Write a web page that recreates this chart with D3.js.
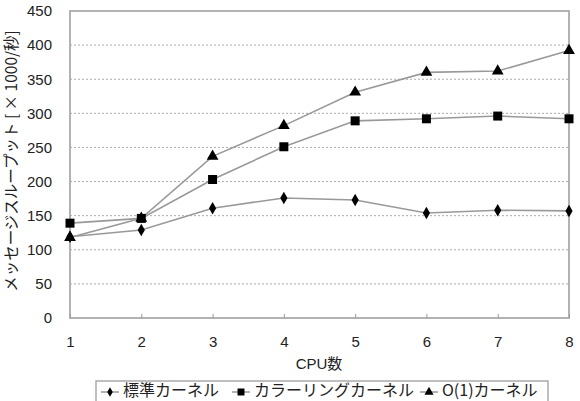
<!DOCTYPE html>
<html>
<head>
<meta charset="utf-8">
<script src="https://cdn.jsdelivr.net/npm/d3@7"></script>
<style>
  html, body { margin: 0; padding: 0; background: #fff; overflow: hidden; }
  svg { display: block; }
  svg text { font-family: "Liberation Sans", "Noto Sans CJK JP", sans-serif; fill: #222; }
  svg text.jp { font-family: "Noto Sans CJK JP", "Liberation Sans", sans-serif; }
</style>
</head>
<body>
<div id="chart"></div>
<script>
const cpus = [1, 2, 3, 4, 5, 6, 7, 8];
const yTicks = [0, 50, 100, 150, 200, 250, 300, 350, 400, 450];
const standardKernel = [119, 129, 161, 176, 173, 154, 158, 157];
const coloringKernel = [139, 146, 203, 251, 289, 292, 296, 292];
const o1Kernel = [118, 146, 237, 282, 331, 360, 362, 392];
const seriesNames = ["標準カーネル", "カラーリングカーネル", "O(1)カーネル"];

const width = 580, height = 401;
const margin = {top: 11, right: 11, bottom: 83, left: 70};
const innerWidth = width - margin.left - margin.right
, innerHeight = height - margin.top - margin.bottom;

const svg = d3.select("#chart").append("svg")
  .attr("width", width)
  .attr("height", height);

const g = svg.append("g")
  .attr("transform", `translate(${margin.left},${margin.top})`);

const xScale = d3.scaleLinear().domain([1, 8]).range([0, innerWidth]);
const yScale = d3.scaleLinear().domain([0, 450]).range([innerHeight, 0]);

// gridlines
g.selectAll(".grid")
  .data(yTicks.filter(d => d > 0 && d < 450))
  .enter().append("line")
  .attr("x1", 0).attr("x2", innerWidth)
  .attr("y1", d => yScale(d)).attr("y2", d => yScale(d))
  .attr("stroke", "#aaa")
  .attr("stroke-dasharray", "2,2");

// plot frame
g.append("rect")
  .attr("width", innerWidth).attr("height", innerHeight)
  .attr("fill", "none").attr("stroke", "#aaa").attr("stroke-width", 1.8);

// axes
const xAxis = d3.axisBottom(xScale).tickValues(cpus).tickSize(4).tickPadding(14).tickFormat(d3.format("d"));
const yAxis = d3.axisLeft(yScale).tickValues(yTicks).tickSize(0).tickPadding(18);

const xAxisG = g.append("g").attr("transform", `translate(0,${innerHeight})`).call(xAxis);
xAxisG.select(".domain").remove();
xAxisG.selectAll(".tick line").attr("stroke", "#999").attr("transform", "translate(0,-4)");
xAxisG.selectAll("text").style("font-size", "15px").attr("font-family", null);

const yAxisG = g.append("g").call(yAxis);
yAxisG.select(".domain").remove();
yAxisG.selectAll("text").style("font-size", "15px");

g.append("text")
  .attr("x", 319 - margin.left)
  .attr("y", innerHeight + 47)
  .attr("text-anchor", "middle")
  .attr("dominant-baseline", "middle")
  .style("font-size", "15px")
  .text("CPU数");

svg.append("text")
  .attr("class", "jp")
  .attr("transform", `translate(13,161) rotate(-90)`)
  .attr("text-anchor", "middle")
  .attr("dominant-baseline", "middle")
  .style("font-size", "15.5px")
  .text("メッセージスループット [ × 1000/秒]");

// lines
const seriesData = [standardKernel, coloringKernel, o1Kernel];
const symbols = [d3.symbolDiamond, d3.symbolSquare, d3.symbolTriangle];
const symbolSizes = [45, 81, 60];

const line = d3.line()
  .x((d, i) => xScale(cpus[i]))
  .y(d => yScale(d));

seriesData.forEach((values, s) => {
  g.append("path")
    .attr("d", line(values))
    .attr("fill", "none")
    .attr("stroke", "#999")
    .attr("stroke-width", 1.6);
});

seriesData.forEach((values, s) => {
  g.selectAll(".pt" + s)
    .data(values)
    .enter().append("path")
    .attr("transform", (d, i) => `translate(${xScale(cpus[i])},${yScale(d)})`)
    .attr("d", d3.symbol().type(symbols[s]).size(symbolSizes[s]))
    .attr("fill", "#000");
});

// legend
const legendX = 96, legendY = 381;
const legend = svg.append("g");
legend.append("rect")
  .attr("x", legendX).attr("y", legendY)
  .attr("width", 452).attr("height", 26)
  .attr("fill", "#fff").attr("stroke", "#aaa").attr("stroke-width", 1.5);

const legendOffsets = [5, 136, 324];
seriesNames.forEach((name, s) => {
  const lx = legendX + legendOffsets[s], ly = legendY + 11;
  legend.append("line")
    .attr("x1", lx).attr("x2", lx + 18)
    .attr("y1", ly).attr("y2", ly)
    .attr("stroke", "#999").attr("stroke-width", 1.5);
  legend.append("path")
    .attr("transform", `translate(${lx + 9},${ly})`)
    .attr("d", d3.symbol().type(symbols[s]).size(symbolSizes[s] * 0.6))
    .attr("fill", "#000");
  legend.append("text")
    .attr("class", "jp")
    .attr("x", lx + 22).attr("y", ly)
    .attr("dominant-baseline", "middle")
    .style("font-size", "16px")
    .text(name);
});
</script>
</body>
</html>
